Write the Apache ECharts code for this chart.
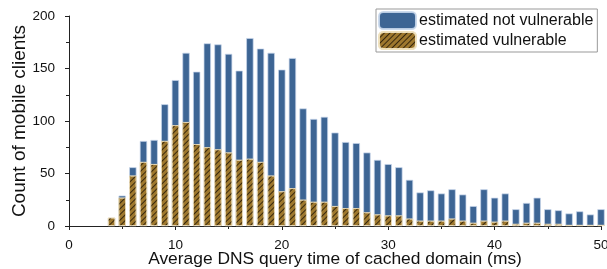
<!DOCTYPE html>
<html>
<head>
<meta charset="utf-8">
<script src="https://cdn.jsdelivr.net/npm/echarts@6/dist/echarts.min.js"></script>
<style>html,body{margin:0;padding:0;background:#fff}#c{width:607px;height:269px}</style>
</head>
<body>
<div id="c"></div>
<script>
const xValues = [4,5,6,7,8,9,10,11,12,13,14,15,16,17,18,19,20,21,22,23,24,25,26,27,28,29,30,31,32,33,34,35,36,37,38,39,40,41,42,43,44,45,46,47,48,49,50];
const vulnerable = [8,27,48,61,59,81,96,99,78,75,73,70,63,64,61,48,33,36,25,23,23,19,17,17,13,11,10,10,7,5,5,5,7,5,3,5,4,5,2,3,3,2,2,1,1,1,1];
const notVulnerable = [0,2,8,20,23,35,43,66,69,99,100,94,85,115,108,117,116,124,87,79,81,70,63,62,57,52,49,46,37,27,29,26,28,25,16,30,23,26,14,19,24,14,13,11,13,10,15];
const xTicks = [0,10,20,30,40,50];
const yTicks = [0,50,100,150,200];
const seriesNames = ['estimated not vulnerable','estimated vulnerable'];

const font = 'Liberation Sans, Arial, sans-serif';
const chart = echarts.init(document.getElementById('c'), null, {renderer:'canvas'});
// stacked top = vulnerable + not vulnerable, drawn behind the vulnerable part
const totals = xValues.map((x,i)=>[x, vulnerable[i] + notVulnerable[i]]);
const vulnPairs = xValues.map((x,i)=>[x, vulnerable[i]]);
const axisCommon = {
  axisLine:{show:true, lineStyle:{color:'#222', width:1}},
  axisTick:{show:true, inside:false, length:4, lineStyle:{color:'#222'}},
  minorTick:{show:true, splitNumber:2, length:3, lineStyle:{color:'#222'}},
  splitLine:{show:false},
  nameMoveOverlap:false
};
chart.setOption({
  animation:false,
  grid:{left:69, right:6, top:16, bottom:43, containLabel:false, outerBoundsMode:'none'},
  legend:{
    orient:'vertical', left:376, top:9, width:222,
    padding:[2,4,2,2], itemGap:1, itemWidth:37, itemHeight:17,
    borderColor:'#999', borderWidth:1, backgroundColor:'#fff',
    textStyle:{fontFamily:font, fontSize:16, color:'#111', padding:[0,0,0,-2]},
    data:seriesNames
  },
  xAxis:Object.assign({}, axisCommon, {
    type:'value', min:xTicks[0], max:xTicks[xTicks.length-1], interval:10,
    name:'Average DNS query time of cached domain (ms)', nameLocation:'middle', nameGap:25,
    nameTextStyle:{fontFamily:font, fontSize:17.4, color:'#111'},
    axisLabel:{color:'#111', fontFamily:font, fontSize:13.5, margin:12}
  }),
  yAxis:Object.assign({}, axisCommon, {
    type:'value', min:yTicks[0], max:yTicks[yTicks.length-1], interval:50,
    name:'Count of mobile clients', nameLocation:'middle', nameGap:40,
    nameTextStyle:{fontFamily:font, fontSize:19, color:'#111'},
    axisLabel:{color:'#111', fontFamily:font, fontSize:13.5, margin:14}
  }),
  series:[
    {
      name:seriesNames[0], type:'bar', clip:false, barWidth:7.4, barGap:'-100%',
      data:totals,
      itemStyle:{color:'#3d6594', borderColor:'rgba(200,215,235,0.9)', borderWidth:0.8}
    },
    {
      name:seriesNames[1], type:'bar', clip:false, barWidth:7.4, barGap:'-100%',
      data:vulnPairs,
      itemStyle:{color:'#9e782e', borderColor:'rgba(240,225,190,0.9)', borderWidth:0.8,
        decal:{symbol:'rect', symbolSize:1, dashArrayX:[1,0], dashArrayY:[1,3], rotation:-Math.PI/4, color:'rgba(30,20,5,0.8)'}}
    }
  ]
});
</script>
</body>
</html>
